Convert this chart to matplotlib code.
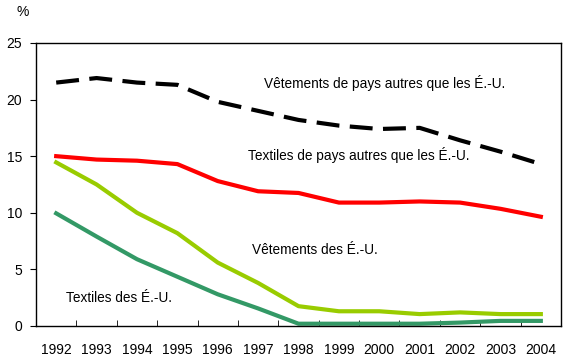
import matplotlib
matplotlib.use("Agg")
import matplotlib.pyplot as plt
from matplotlib.ticker import FixedLocator, NullFormatter

years = [1992, 1993, 1994, 1995, 1996, 1997, 1998, 1999, 2000, 2001, 2002, 2003, 2004]
vet_autres = [21.5, 21.9, 21.5, 21.3, 19.8, 19.0, 18.2, 17.7, 17.4, 17.5, 16.4, 15.4, 14.3]
tex_autres = [15.0, 14.7, 14.6, 14.3, 12.8, 11.9, 11.75, 10.9, 10.9, 11.0, 10.9, 10.35, 9.65]
vet_eu = [14.45, 12.5, 10.0, 8.2, 5.6, 3.8, 1.75, 1.3, 1.3, 1.05, 1.2, 1.05, 1.05]
tex_eu = [9.95, 7.9, 5.9, 4.35, 2.8, 1.55, 0.2, 0.2, 0.2, 0.2, 0.3, 0.45, 0.45]

plt.rcParams['font.family'] = ['Liberation Sans', 'DejaVu Sans']
plt.rcParams['font.size'] = 10

fig = plt.figure(figsize=(5.76, 3.61), dpi=100)
ax = fig.add_axes([0.0625, 0.097, 0.9115, 0.784])

ax.plot(years, vet_autres, color='black', lw=3, dashes=(5.5, 2.5), solid_capstyle='butt')
ax.plot(years, tex_autres, color='#ff0000', lw=3)
ax.plot(years, vet_eu, color='#99cc00', lw=3)
ax.plot(years, tex_eu, color='#339966', lw=3)

ax.set_xlim(1991.5, 2004.5)
ax.set_ylim(0, 25)
ax.set_yticks([0, 5, 10, 15, 20, 25])
ax.set_xticks(years)
ax.xaxis.set_minor_locator(FixedLocator([y + 0.5 for y in years[:-1]]))
ax.xaxis.set_minor_formatter(NullFormatter())
ax.tick_params(axis='x', which='major', length=0, pad=12)
ax.tick_params(axis='x', which='minor', direction='in', length=4)
ax.tick_params(axis='y', direction='out', length=4, pad=6)
for s in ax.spines.values():
    s.set_linewidth(1)

ax.text(1997.15, 21.0, "Vêtements de pays autres que les É.-U.", fontsize=9.8)
ax.text(1996.75, 14.7, "Textiles de pays autres que les É.-U.", fontsize=9.8)
ax.text(1996.85, 6.4, "Vêtements des É.-U.", fontsize=9.8)
ax.text(1992.25, 2.1, "Textiles des É.-U.", fontsize=9.8)
fig.text(0.028, 0.955, "%", fontsize=10)

fig.savefig("out.png", dpi=100)
